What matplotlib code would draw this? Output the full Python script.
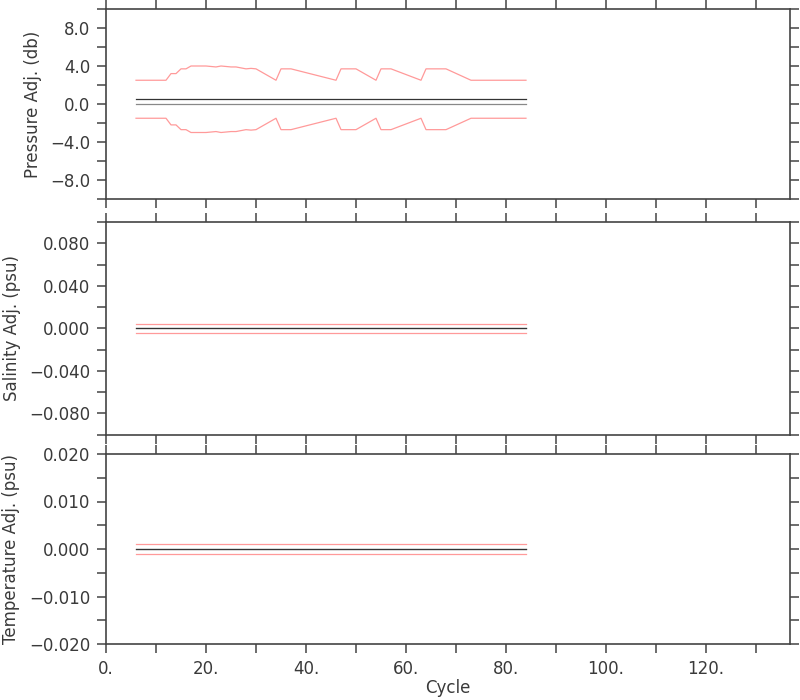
import matplotlib
matplotlib.use('Agg')
import matplotlib.pyplot as plt
from matplotlib.ticker import MultipleLocator, FuncFormatter
import numpy as np

# cycles and adjustments
cycles = [6, 7, 8, 9, 10, 11, 12, 13, 14, 15, 16, 17, 18, 19, 20, 21, 22, 23,
          24, 25, 26, 27, 28, 29, 30, 34, 35, 37, 46, 47, 50, 54, 55, 57, 63,
          64, 68, 73, 74, 80, 84]
pres_adj = [0.5] * len(cycles)
pres_err = [2.0, 2.0, 2.0, 2.0, 2.0, 2.0, 2.0, 2.7, 2.7, 3.2, 3.2, 3.5, 3.5,
            3.5, 3.5, 3.45, 3.4, 3.5, 3.45, 3.4, 3.4, 3.3, 3.2, 3.25, 3.2,
            2.0, 3.2, 3.2, 2.0, 3.2, 3.2, 2.0, 3.2, 3.2, 2.0, 3.2, 3.2, 2.0,
            2.0, 2.0, 2.0]
psal_adj = [0.0] * len(cycles)
psal_err = [0.004] * len(cycles)
temp_adj = [0.0] * len(cycles)
temp_err = [0.001] * len(cycles)

RED = '#ff9a9a'
BLACK = '#333333'
GRAY = '#888888'
SPINE = '#444444'
TXT = '#3a3a3a'

plt.rcParams['font.family'] = 'DejaVu Sans'
plt.rcParams['font.size'] = 12

fig = plt.figure(figsize=(8, 7), dpi=100)
left, width = 106 / 800, (790 - 106) / 800
boxes = [(1 - 199 / 700, 190 / 700),
         (1 - 434.6 / 700, 212.6 / 700),
         (1 - 644 / 700, 190 / 700)]

panels = [
    (pres_adj, pres_err, 10, 4, 2, 'Pressure Adj. (db)', '%.1f'),
    (psal_adj, psal_err, 0.1, 0.04, 0.02, 'Salinity Adj. (psu)', '%.3f'),
    (temp_adj, temp_err, 0.02, 0.01, 0.005, 'Temperature Adj. (psu)', '%.3f'),
]

x = np.array(cycles)
for i, (adj, err, lim, major, minor, label, fmt) in enumerate(panels):
    bottom, height = boxes[i]
    ax = fig.add_axes([left, bottom, width, height])
    adj = np.array(adj)
    err = np.array(err)
    ax.plot(x, np.zeros_like(adj), color=GRAY, lw=0.9)
    ax.plot(x, adj, color=BLACK, lw=0.9)
    ax.plot(x, adj + err, color=RED, lw=0.9)
    ax.plot(x, adj - err, color=RED, lw=0.9)

    ax.set_xlim(0, 136.8)
    ax.set_ylim(-lim, lim)
    ax.xaxis.set_major_locator(MultipleLocator(20))
    ax.xaxis.set_minor_locator(MultipleLocator(10))
    ax.xaxis.set_major_formatter(FuncFormatter(lambda v, p: '%d.' % v))
    ax.yaxis.set_major_locator(MultipleLocator(major))
    ax.yaxis.set_minor_locator(MultipleLocator(minor))
    ax.yaxis.set_major_formatter(FuncFormatter(
        lambda v, p, f=fmt: (f % v).replace('-', '\u2212')))
    ax.tick_params(which='both', direction='out', length=6.5, width=1.1,
                   color=SPINE, top=True, right=True, labelcolor=TXT,
                   labelsize=12, pad=5)
    for s in ax.spines.values():
        s.set_color(SPINE)
        s.set_linewidth(1.2)
    ax.set_ylabel(label, color=TXT, fontsize=12, labelpad=6)
    if i < 2:
        ax.tick_params(labelbottom=False)
    else:
        ax.set_xlabel('Cycle', color=TXT, fontsize=12, labelpad=1)

plt.savefig('out.png', dpi=100)
